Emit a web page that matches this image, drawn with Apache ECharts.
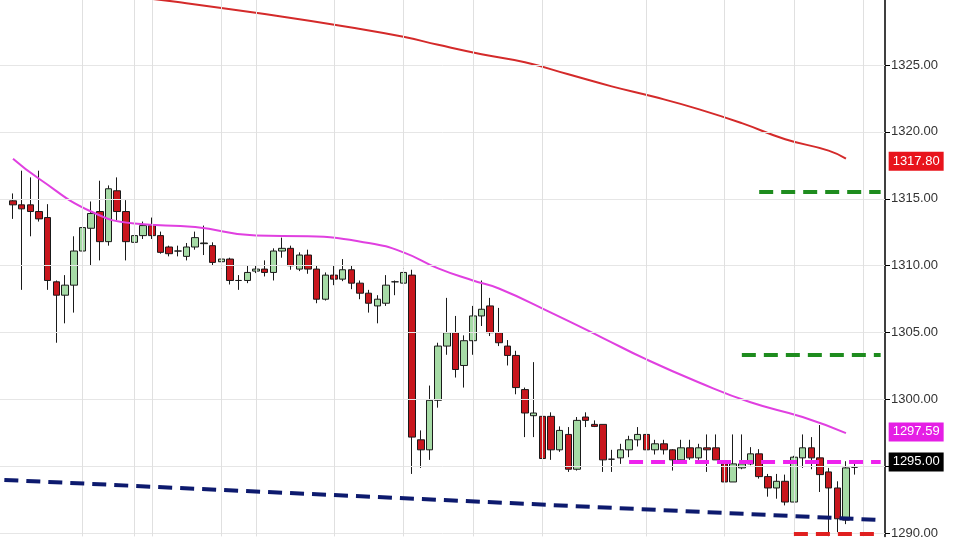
<!DOCTYPE html>
<html>
<head>
<meta charset="utf-8">
<script src="https://cdn.jsdelivr.net/npm/echarts@6/dist/echarts.min.js"></script>
<style>html,body{margin:0;padding:0;background:#fff;}#main{width:960px;height:540px;}</style>
</head>
<body>
<div id="main"></div>
<script>
// candles 1..98, slot 0 and last 3 slots are empty
const opens = [
  1314.85, 1314.55, 1314.55, 1314.05, 1313.6, 1308.8, 1307.8, 1308.55, 1311.1, 1312.8,
  1314.05, 1311.8, 1315.6, 1314.05, 1311.75, 1312.25, 1313.0, 1312.25, 1311.4, 1311.1,
  1310.7, 1311.4, 1311.65, 1311.5, 1310.3, 1310.5, 1308.9, 1308.9, 1309.6, 1309.75,
  1309.5, 1311.1, 1311.3, 1309.75, 1310.8, 1309.75, 1307.5, 1309.3, 1309.0, 1309.7,
  1308.7, 1307.95, 1307.0, 1307.2, 1308.8, 1308.7, 1309.3, 1297.0, 1296.25, 1299.95,
  1304.0, 1305.0, 1302.55, 1304.4, 1306.25, 1307.0, 1305.0, 1304.0, 1303.3, 1300.75,
  1298.8, 1298.75, 1298.75, 1296.25, 1297.4, 1294.8, 1298.7, 1298.15, 1298.15, 1295.55,
  1295.65, 1296.25, 1297.0, 1297.4, 1296.25, 1296.7, 1296.25, 1295.5, 1296.4, 1295.65,
  1296.4, 1296.4, 1295.2, 1293.85, 1294.9, 1295.2, 1295.95, 1294.25, 1293.4, 1293.9,
  1292.35, 1295.65, 1296.4, 1295.65, 1294.6, 1293.4, 1291.0, 1294.95
];
const closes = [
  1314.55, 1314.25, 1314.05, 1313.5, 1308.9, 1307.8, 1308.55, 1311.1, 1312.85, 1313.9,
  1311.8, 1315.75, 1314.05, 1311.8, 1312.25, 1313.0, 1312.25, 1311.0, 1310.9, 1311.1,
  1311.4, 1312.1, 1311.7, 1310.25, 1310.5, 1308.9, 1308.9, 1309.5, 1309.75, 1309.5,
  1311.1, 1311.3, 1310.0, 1310.8, 1309.75, 1307.5, 1309.3, 1309.0, 1309.7, 1308.7,
  1307.95, 1307.2, 1307.5, 1308.55, 1308.8, 1309.5, 1297.2, 1296.25, 1299.95, 1304.0,
  1305.0, 1302.25, 1304.4, 1306.25, 1306.75, 1305.0, 1304.25, 1303.3, 1300.9, 1299.0,
  1299.0, 1295.6, 1296.25, 1297.7, 1294.8, 1298.45, 1298.45, 1298.0, 1295.5, 1295.55,
  1296.25, 1297.0, 1297.4, 1296.25, 1296.7, 1296.25, 1295.5, 1296.4, 1295.65, 1296.4,
  1296.25, 1295.5, 1293.85, 1295.2, 1295.2, 1295.95, 1294.25, 1293.4, 1293.9, 1292.35,
  1295.7, 1296.4, 1295.65, 1294.4, 1293.4, 1291.1, 1294.9, 1294.95
];
const lows = [
  1313.5, 1308.2, 1312.2, 1313.3, 1308.2, 1304.25, 1305.7, 1306.5, 1310.0, 1310.0,
  1310.4, 1311.5, 1313.4, 1310.4, 1311.5, 1312.0, 1312.0, 1310.9, 1310.7, 1310.7,
  1310.4, 1311.2, 1310.8, 1310.0, 1308.9, 1308.6, 1308.2, 1308.7, 1309.45, 1309.2,
  1308.9, 1310.6, 1309.7, 1309.6, 1309.4, 1307.2, 1307.4, 1308.55, 1308.85, 1308.25,
  1307.5, 1306.5, 1305.7, 1307.0, 1307.8, 1307.2, 1294.45, 1294.9, 1295.5, 1299.4,
  1303.35, 1301.65, 1300.9, 1303.35, 1305.5, 1304.75, 1304.0, 1302.55, 1300.4, 1297.2,
  1297.2, 1295.5, 1295.5, 1296.1, 1294.6, 1294.7, 1297.95, 1297.95, 1294.6, 1294.6,
  1295.2, 1295.7, 1296.5, 1296.1, 1295.9, 1295.9, 1294.7, 1295.2, 1295.5, 1295.5,
  1294.6, 1295.5, 1293.1, 1293.85, 1294.8, 1295.1, 1294.1, 1292.75, 1292.6, 1292.1,
  1292.35, 1294.9, 1294.8, 1293.1, 1289.8, 1290.1, 1290.7, 1294.4
];
const highs = [
  1315.4, 1317.1, 1316.6, 1317.1, 1314.6, 1308.9, 1309.3, 1312.2, 1313.9, 1314.8,
  1316.35, 1316.0, 1316.6, 1314.9, 1312.6, 1313.3, 1313.6, 1312.55, 1311.5, 1311.5,
  1311.7, 1312.55, 1313.0, 1311.75, 1310.8, 1310.6, 1309.3, 1310.0, 1310.0, 1310.4,
  1311.3, 1312.1, 1311.5, 1311.0, 1311.2, 1310.0, 1309.5, 1310.0, 1310.5, 1310.0,
  1308.9, 1308.2, 1307.8, 1309.3, 1308.9, 1311.1, 1309.7, 1297.7, 1301.05, 1304.25,
  1307.6, 1306.25, 1304.8, 1307.0, 1308.9, 1307.6, 1306.85, 1304.45, 1303.65, 1300.9,
  1302.8, 1299.05, 1299.05, 1298.0, 1297.95, 1298.7, 1299.05, 1298.45, 1298.15, 1296.25,
  1296.7, 1297.3, 1297.95, 1297.7, 1297.0, 1297.0, 1296.3, 1297.0, 1297.0, 1296.7,
  1297.4, 1297.4, 1295.5, 1297.4, 1297.4, 1296.45, 1296.3, 1294.45, 1294.45, 1294.4,
  1295.8, 1297.4, 1297.2, 1298.1, 1294.9, 1293.9, 1295.4, 1295.3
];
// moving averages read at a few candles, [index, value]
const fastMaPoints = [
  [1, 1318.0], [4, 1316.5], [10, 1314.05], [15, 1313.15], [22, 1312.9], [29, 1312.25],
  [35, 1312.2], [42, 1311.7], [46, 1311.0], [50, 1309.8], [54, 1308.9], [57, 1308.3],
  [63, 1306.5], [69, 1304.6], [74, 1303.0], [80, 1301.3], [86, 1299.8], [92, 1298.7], [97, 1297.5]
];
const slowMaPoints = [
  [16, 1330.0], [20, 1329.7], [30, 1328.8], [40, 1327.8], [46, 1327.1], [50, 1326.5],
  [55, 1325.8], [60, 1325.2], [65, 1324.3], [70, 1323.4], [75, 1322.6], [80, 1321.7],
  [85, 1320.65], [90, 1319.45], [95, 1318.6], [97, 1318.0]
];
const yTicks = [1290, 1295, 1300, 1305, 1310, 1315, 1320, 1325];
const vGridIdx = [9, 15, 17, 25, 29, 38, 46, 54, 62, 74, 83, 91, 99];

const slotCount = 102;
const cats = [];
for (let i = 0; i < slotCount; i++) cats.push(String(i));

const candleData = [];
for (let i = 0; i < slotCount; i++) {
  const k = i - 1;
  if (k >= 0 && k < opens.length) {
    candleData.push([opens[k], closes[k], lows[k], highs[k]]);
  } else {
    candleData.push('-');
  }
}
const toLine = (pts) => {
  const arr = new Array(slotCount).fill(null);
  for (const p of pts) arr[p[0]] = p[1];
  return arr;
};

const tagLabel = (txt, bg) => ({
  show: true, position: 'end', formatter: txt, color: '#fff', backgroundColor: bg,
  padding: [3, 4], fontSize: 13, distance: 8,
});
const seg = (x0, y0, x1, y1, color, width) => [
  { coord: [x0, y0], lineStyle: { color: color, width: width, type: [14, 8] }, label: { show: false } },
  { coord: [x1, y1] },
];
const markLines = [];
for (const v of yTicks) {
  markLines.push({ yAxis: v, lineStyle: { color: '#e6e6e6', width: 1, type: 'solid' }, label: { show: false } });
}
for (const v of vGridIdx) {
  markLines.push({ xAxis: v, lineStyle: { color: '#e0e0e0', width: 1, type: 'solid' }, label: { show: false } });
}
markLines.push(seg(87, 1315.55, 101, 1315.55, '#1e8c1e', 4));
markLines.push(seg(85, 1303.35, 101, 1303.35, '#1e8c1e', 4));
markLines.push(seg(0, 1294.0, 101, 1291.0, '#0d1a6e', 4));
markLines.push(seg(91, 1289.95, 101, 1289.95, '#e02020', 4));
const pinkSeg = seg(72, 1295.35, 101, 1295.35, '#ee22ee', 4);
pinkSeg[0].label = tagLabel('1295.00', '#000');
markLines.push(pinkSeg);
markLines.push([
  { coord: [100, 1317.8], lineStyle: { color: 'rgba(0,0,0,0)', width: 1 }, label: tagLabel('1317.80', '#e8141c') },
  { coord: [101, 1317.8] },
]);
markLines.push([
  { coord: [100, 1297.59], lineStyle: { color: 'rgba(0,0,0,0)', width: 1 }, label: tagLabel('1297.59', '#e51ee5') },
  { coord: [101, 1297.59] },
]);

const myChart = echarts.init(document.getElementById('main'));
const option = {
  animation: false,
  backgroundColor: '#fff',
  textStyle: { fontFamily: 'Liberation Sans, Arial, sans-serif' },
  grid: { left: 0, right: 75, top: 0, bottom: 0 },
  xAxis: {
    type: 'category', data: cats, boundaryGap: true,
    axisLine: { show: false }, axisTick: { show: false }, axisLabel: { show: false }, splitLine: { show: false },
  },
  yAxis: {
    type: 'value', position: 'right', min: 1289.78, max: 1329.85, scale: true,
    axisLine: { show: true, lineStyle: { color: '#000', width: 1.5 } },
    axisTick: { show: true, length: 5, lineStyle: { color: '#000' }, customValues: yTicks },
    axisLabel: { color: '#333', fontSize: 13, margin: 6, customValues: yTicks, formatter: (v) => v.toFixed(2) },
    splitLine: { show: false },
  },
  series: [
    {
      type: 'candlestick', data: candleData, barWidth: 7, z: 3,
      itemStyle: { color: '#a6dba6', color0: '#c8161d', borderColor: '#1a1a1a', borderColor0: '#1a1a1a', borderWidth: 1 },
      markLine: { silent: true, symbol: ['none', 'none'], animation: false, data: markLines },
    },
    {
      type: 'line', data: toLine(fastMaPoints), connectNulls: true, smooth: true, showSymbol: false,
      lineStyle: { color: '#e040e0', width: 2 }, z: 4,
    },
    {
      type: 'line', data: toLine(slowMaPoints), connectNulls: true, smooth: true, showSymbol: false,
      lineStyle: { color: '#d42a2a', width: 2 }, z: 4,
    },
  ],
};
myChart.setOption(option);
</script>
</body>
</html>
